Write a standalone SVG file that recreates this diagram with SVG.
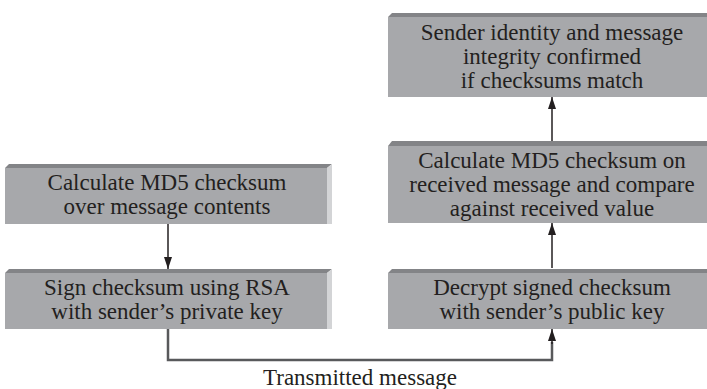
<svg xmlns="http://www.w3.org/2000/svg" width="707" height="389" viewBox="0 0 707 389" font-family="'Liberation Serif', 'Times New Roman', serif">
<defs>
<style>
.body{fill:#a7a8ab}
.top{fill:#838487}
.side{fill:#d3d4d6}
.t{font-family:'Liberation Serif','Times New Roman',serif;font-size:23px;fill:#231f20;text-anchor:middle}
.ln{fill:none;stroke:#231f20;stroke-width:1.5}
.cn{fill:none;stroke:#58595b;stroke-width:2.5}
</style>
<marker id="ah" viewBox="0 0 12 8" refX="12" refY="4" markerWidth="12" markerHeight="8" markerUnits="userSpaceOnUse" orient="auto">
<path d="M0,0 L12,4 L0,8 Z" fill="#231f20"/>
</marker>
</defs>
<rect width="707" height="389" fill="#ffffff"/>
<g id="connectors">
<line class="ln" x1="168" y1="224" x2="168" y2="269" marker-end="url(#ah)"/>
<line class="ln" x1="552" y1="268" x2="552" y2="223" marker-end="url(#ah)"/>
<line class="ln" x1="552" y1="141" x2="552" y2="97" marker-end="url(#ah)"/>
<polyline class="cn" points="168,329 168,360 552,360 552,342"/>
<line class="ln" x1="552" y1="344" x2="552" y2="329" marker-end="url(#ah)"/>
<text class="t" x="360" y="385">Transmitted message</text>
</g>
<g id="n1">
<polygon class="top" points="5,168 9,164 332,164 327,168"/>
<polygon class="side" points="327,168 332,164 332,224 327,224"/>
<rect class="body" x="5" y="168" width="322" height="56"/>
<text class="t" x="167" y="190">Calculate MD5 checksum</text>
<text class="t" x="167" y="214">over message contents</text>
</g>
<g id="n2">
<polygon class="top" points="5,273 9,269 332,269 327,273"/>
<polygon class="side" points="327,273 332,269 332,329 327,329"/>
<rect class="body" x="5" y="273" width="322" height="56"/>
<text class="t" x="167" y="295">Sign checksum using RSA</text>
<text class="t" x="167" y="319">with sender’s private key</text>
</g>
<g id="n3">
<polygon class="top" points="388,273 392,269 707,269 707,273"/>
<rect class="body" x="388" y="273" width="319" height="56"/>
<text class="t" x="552" y="295">Decrypt signed checksum</text>
<text class="t" x="552" y="319">with sender’s public key</text>
</g>
<g id="n4">
<polygon class="top" points="388,146 392,141 707,141 707,146"/>
<rect class="body" x="388" y="146" width="319" height="77"/>
<text class="t" x="552" y="168">Calculate MD5 checksum on</text>
<text class="t" x="552" y="192">received message and compare</text>
<text class="t" x="552" y="216">against received value</text>
</g>
<g id="n5">
<polygon class="top" points="388,17 392,13 707,13 707,17"/>
<rect class="body" x="388" y="17" width="319" height="80"/>
<text class="t" x="552" y="40">Sender identity and message</text>
<text class="t" x="552" y="64">integrity confirmed</text>
<text class="t" x="552" y="88">if checksums match</text>
</g>
</svg>
